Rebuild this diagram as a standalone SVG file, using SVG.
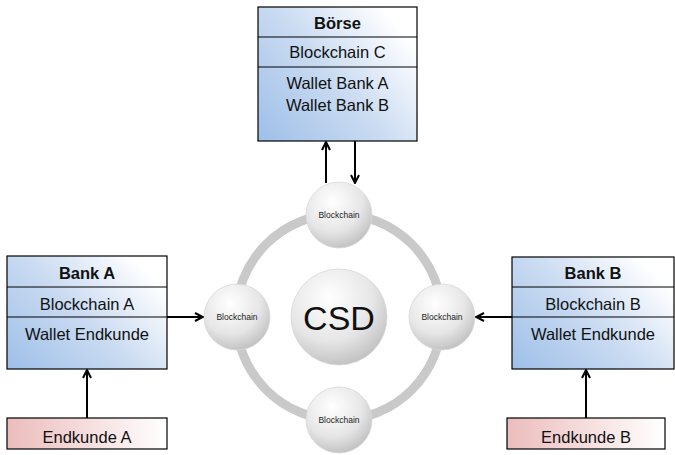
<svg xmlns="http://www.w3.org/2000/svg" width="675" height="455" viewBox="0 0 675 455">
<style>
.box{stroke:#000;stroke-width:1.2;fill:url(#blue)}
.cust{stroke:#000;stroke-width:1.2;fill:url(#pink)}
.div{stroke:#000;stroke-width:1.2}
.t{font-family:"Liberation Sans",Arial,sans-serif;font-size:16.5px;fill:#111;text-anchor:middle}
.b{font-weight:bold}
.bc{font-family:"Liberation Sans",Arial,sans-serif;font-size:8.5px;fill:#222;text-anchor:middle}
.ball{fill:url(#ballg);stroke:#d8d8d8;stroke-width:0.8}
.con{stroke:#000;stroke-width:2;fill:none;marker-end:url(#arr)}
</style>
<defs>
<linearGradient id="blue" x1="0" y1="1" x2="1" y2="0.3">
<stop offset="0" stop-color="#9ebfe8"/>
<stop offset="0.55" stop-color="#cbdcf2"/>
<stop offset="1" stop-color="#ffffff"/>
</linearGradient>
<linearGradient id="pink" x1="0" y1="0" x2="1" y2="0">
<stop offset="0" stop-color="#ecbcbc"/>
<stop offset="1" stop-color="#ffffff"/>
</linearGradient>
<radialGradient id="ballg" cx="0.4" cy="0.3" r="0.75">
<stop offset="0" stop-color="#ffffff"/>
<stop offset="0.6" stop-color="#e6e6e6"/>
<stop offset="1" stop-color="#bdbdbd"/>
</radialGradient>
<marker id="arr" viewBox="0 0 10 10" refX="9" refY="5" markerWidth="5" markerHeight="5" orient="auto" markerUnits="strokeWidth">
<path d="M1,1 L9,5 L1,9" fill="none" stroke="#000" stroke-width="2"/>
</marker>
</defs>

<g id="ring">
<circle cx="339" cy="317" r="103" fill="none" stroke="#c9c9c9" stroke-width="9"/>
</g>

<g id="csd">
<circle class="ball" cx="339" cy="317" r="48"/>
<text x="339" y="330" style="font-family:'Liberation Sans',Arial,sans-serif;font-size:34px;fill:#111;text-anchor:middle">CSD</text>
</g>
<g id="bc-top"><circle class="ball" cx="339" cy="215" r="33"/><text class="bc" x="339" y="218">Blockchain</text></g>
<g id="bc-left"><circle class="ball" cx="237" cy="317" r="33"/><text class="bc" x="237" y="320">Blockchain</text></g>
<g id="bc-right"><circle class="ball" cx="442" cy="317" r="33"/><text class="bc" x="442" y="320">Blockchain</text></g>
<g id="bc-bottom"><circle class="ball" cx="339" cy="420" r="33"/><text class="bc" x="339" y="423">Blockchain</text></g>

<g id="boerse">
<rect class="box" x="258" y="7" width="159" height="134"/>
<line class="div" x1="258" y1="37" x2="417" y2="37"/>
<line class="div" x1="258" y1="67" x2="417" y2="67"/>
<text class="t b" x="337.5" y="29">Börse</text>
<text class="t" x="337.5" y="58">Blockchain C</text>
<text class="t" x="337.5" y="89">Wallet Bank A</text>
<text class="t" x="337.5" y="111">Wallet Bank B</text>
</g>

<g id="bankA">
<rect class="box" x="7" y="256" width="160" height="113"/>
<line class="div" x1="7" y1="287" x2="167" y2="287"/>
<line class="div" x1="7" y1="317" x2="167" y2="317"/>
<text class="t b" x="87" y="279">Bank A</text>
<text class="t" x="87" y="310">Blockchain A</text>
<text class="t" x="87" y="340">Wallet Endkunde</text>
</g>

<g id="bankB">
<rect class="box" x="512" y="257" width="162" height="112"/>
<line class="div" x1="512" y1="287" x2="674" y2="287"/>
<line class="div" x1="512" y1="317" x2="674" y2="317"/>
<text class="t b" x="593" y="279">Bank B</text>
<text class="t" x="593" y="310">Blockchain B</text>
<text class="t" x="593" y="340">Wallet Endkunde</text>
</g>

<g id="endkundeA">
<rect class="cust" x="7" y="418" width="160" height="31"/>
<text class="t" x="87" y="443">Endkunde A</text>
</g>

<g id="endkundeB">
<rect class="cust" x="507" y="418" width="158" height="31"/>
<text class="t" x="586" y="443">Endkunde B</text>
</g>

<g id="connectors">
<line class="con" x1="326" y1="183" x2="326" y2="142"/>
<line class="con" x1="355" y1="141" x2="355" y2="183"/>
<line class="con" x1="167" y1="317" x2="203" y2="317"/>
<line class="con" x1="512" y1="317" x2="476" y2="317"/>
<line class="con" x1="87" y1="418" x2="87" y2="370"/>
<line class="con" x1="586" y1="418" x2="586" y2="370"/>
</g>
</svg>
